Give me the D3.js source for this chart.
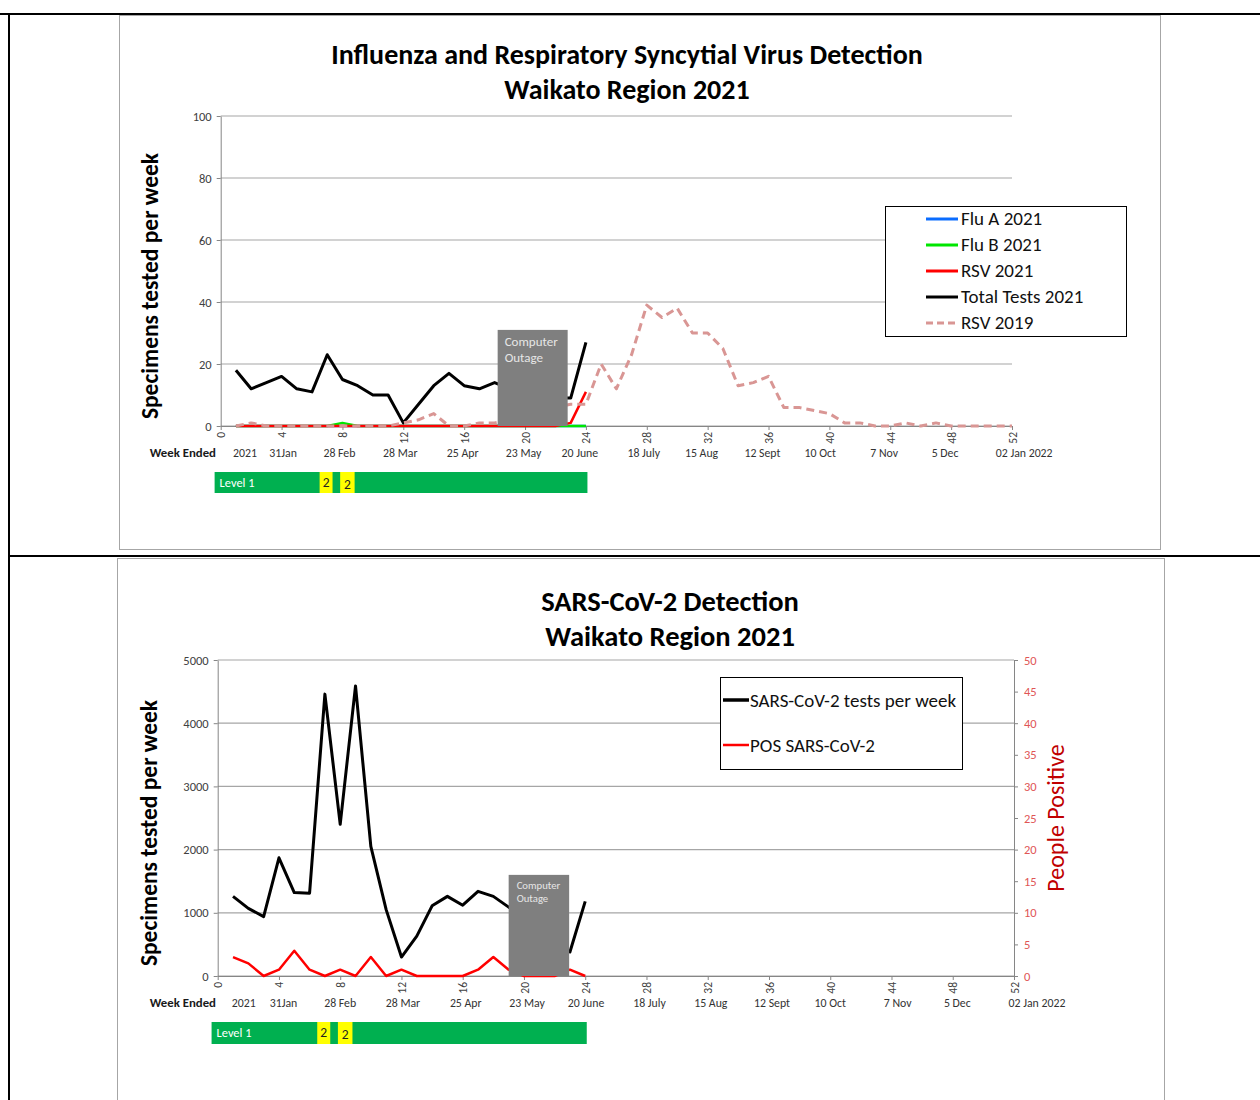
<!doctype html>
<html>
<head>
<meta charset='utf-8'>
<script src='https://cdn.jsdelivr.net/npm/d3@7/dist/d3.min.js'></script>
<style>
  body { margin:0; background:#fff; }
  text { font-family: Carlito, Calibri, Lato, sans-serif; }
</style>
</head>
<body>
<div id='page'></div>
<script>

// ---- data ----
const weeks2021 = d3.range(1, 25);          // weeks 1..24 of 2021
const weeks2019 = d3.range(1, 53);          // weeks 1..52

const fluA2021 = [0,0,0,0,0,0,0,0,0,0,0,0,0,0,0,0,0,0,0,0,0,0,0,0];
const fluB2021 = [0,0,0,0,0,0,0,1,0,0,0,0,0,0,0,0,0,0,0,0,0,0,0,0];
const rsv2021  = [0,0,0,0,0,0,0,0,0,0,0,0,0,0,0,0,0,0,0,0,0,0,1,11];
const totalTests2021 = [18,12,14,16,12,11,23,15,13,10,10,1,7,13,17,13,12,14,12,11,10,9,9,27];
const rsv2019 = [0,1,0,0,0,0,0,0,0,0,0,1,2,4,0,0,1,1,2,3,5,6,7,7,
                 20,12,23,39,35,38,30,30,25,13,14,16,6,6,5,4,1,1,0,0,1,0,1,0,0,0,0,0];

const sarsTests = [1260,1070,940,1870,1320,1310,4460,2400,4590,2050,1050,300,
                   630,1110,1260,1120,1340,1260,1090,900,700,500,380,1180];
const sarsPos   = [3,2,0,1,4,1,0,1,0,3,0,1,0,0,0,0,1,3,1,0,0,0,1,0];

const weekTicks = d3.range(0, 53, 4);
const dateLabels = ['2021','31Jan','28 Feb','28 Mar','25 Apr','23 May','20 June',
                    '18 July','15 Aug','12 Sept','10 Oct','7 Nov','5 Dec','02 Jan 2022'];
// where each date label sits (week units) - placed by hand in the original, so differs per chart
const dateWeeksFlu  = [1.6,4.1,7.8,11.8,15.9,19.9,23.6,27.8,31.6,35.6,39.4,43.6,47.6,52.8];
const dateWeeksSars = [1.7,4.3,8.0,12.1,16.2,20.2,24.05,28.2,32.2,36.2,40.0,44.4,48.3,53.5];

// alert level bands (in week units)
const alertLevels = [
  {label:'Level 1', from:-0.4, to:24.1, colour:'#00b050'},
  {label:'2', from:6.5,  to:7.35, colour:'#ffff00'},
  {label:'2', from:7.85, to:8.8,  colour:'#ffff00'}
];

// lab outage annotations (weeks, and top in data units)
const outageFlu  = {from:18.2, to:22.8, top:31};
const outageSars = {from:19.0, to:22.95, top:1600};

const fluSeries = [
  {name:'Flu A 2021', values:fluA2021, x:weeks2021, colour:'#0a6cff', width:2.5, dash:null},
  {name:'Flu B 2021', values:fluB2021, x:weeks2021, colour:'#00e600', width:2.5, dash:null},
  {name:'RSV 2021', values:rsv2021, x:weeks2021, colour:'#ff0000', width:2.5, dash:null},
  {name:'Total Tests 2021', values:totalTests2021, x:weeks2021, colour:'#000000', width:3, dash:null},
  {name:'RSV 2019', values:rsv2019, x:weeks2019, colour:'#d99694', width:3, dash:'8,5'}
];

// ---- page ----
const svg = d3.select('#page').append('svg')
  .attr('width', 1260).attr('height', 1100);

// table lines
svg.append('line').attr('x1',0).attr('x2',1260).attr('y1',14).attr('y2',14).attr('stroke','#000').attr('stroke-width',2);
svg.append('line').attr('x1',9).attr('x2',1260).attr('y1',556).attr('y2',556).attr('stroke','#000').attr('stroke-width',2);
svg.append('line').attr('x1',9).attr('x2',9).attr('y1',14).attr('y2',1100).attr('stroke','#000').attr('stroke-width',2);

// chart frames
svg.append('rect').attr('x',119.5).attr('y',15.5).attr('width',1041).attr('height',534)
  .attr('fill','#fff').attr('stroke','#a6a6a6');
svg.append('rect').attr('x',117.5).attr('y',558.5).attr('width',1047).attr('height',560)
  .attr('fill','#fff').attr('stroke','#a6a6a6');

function titles(lines, cx, y0, gap, size){
  lines.forEach((t,i) => {
    svg.append('text').attr('x',cx).attr('y',y0 + i*gap)
      .attr('text-anchor','middle').attr('font-size',size).attr('font-weight','bold')
      .attr('fill','#000').text(t);
  });
}

function yTitle(t, x, cy){
  svg.append('text').attr('transform',`translate(${x},${cy}) rotate(-90)`)
    .attr('text-anchor','middle').attr('font-size',23.5).attr('font-weight','bold')
    .attr('fill','#000').text(t);
}

function gridAndLeftAxis(y, ticks, x0, x1){
  const g = svg.append('g');
  g.selectAll('line.grid').data(ticks).enter().append('line')
    .attr('class','grid')
    .attr('x1',x0).attr('x2',x1)
    .attr('y1',d => y(d)).attr('y2',d => y(d))
    .attr('stroke','#a6a6a6').attr('stroke-width',1.2);
  const ax = svg.append('g').attr('transform',`translate(${x0},0)`)
    .call(d3.axisLeft(y).tickValues(ticks).tickFormat(d3.format('d'))
      .tickSize(4).tickSizeOuter(0).tickPadding(5));
  ax.select('.domain').attr('stroke','#868686');
  ax.selectAll('.tick line').attr('stroke','#868686');
  ax.selectAll('.tick text').attr('font-size',12.5).attr('fill','#404040')
    .style('font-family','Carlito, Calibri, Lato, sans-serif');
  return ax;
}

function weekAxis(x, yPos){
  const ax = svg.append('g').attr('transform',`translate(0,${yPos})`)
    .call(d3.axisBottom(x).tickValues(weekTicks).tickSize(4).tickSizeOuter(0));
  ax.select('.domain').attr('stroke','#868686');
  ax.selectAll('.tick line').attr('stroke','#868686');
  ax.selectAll('.tick text')
    .attr('transform','rotate(-90)')
    .attr('text-anchor','end')
    .attr('x',-6).attr('y',0).attr('dy','0.35em')
    .attr('font-size',11.5).attr('fill','#404040')
    .style('font-family','Carlito, Calibri, Lato, sans-serif');
}

function dateRow(x, yPos, labelWeeks){
  svg.append('text').attr('x',216).attr('y',yPos).attr('text-anchor','end')
    .attr('font-size',12.8).attr('font-weight','bold').attr('fill','#1a1a1a').text('Week Ended');
  svg.selectAll(null).data(dateLabels).enter().append('text')
    .attr('x',(d,i) => x(labelWeeks[i]))
    .attr('y',yPos).attr('text-anchor','middle')
    .attr('font-size',11.8).attr('fill','#333').text(d => d);
}

function levelBar(x, yTop, h){
  const g = svg.append('g');
  g.selectAll('rect').data(alertLevels).enter().append('rect')
    .attr('x',d => x(d.from)).attr('y',yTop)
    .attr('width',d => x(d.to) - x(d.from)).attr('height',h)
    .attr('fill',d => d.colour);
  g.selectAll('text').data(alertLevels).enter().append('text')
    .attr('x',(d,i) => i === 0 ? x(d.from) + 5 : (x(d.from) + x(d.to))/2)
    .attr('y',(d,i) => yTop + h/2 + (i === 2 ? 6 : 4))
    .attr('text-anchor',(d,i) => i === 0 ? 'start' : 'middle')
    .attr('font-size',(d,i) => i === 0 ? 12.4 : 13.5)
    .attr('fill',(d,i) => i === 0 ? '#fff' : '#222')
    .text(d => d.label);
}

function outageBox(x, y, o, yBase, fontSize, pad){
  const yTop = y(o.top);
  svg.append('rect').attr('x',x(o.from)).attr('y',yTop)
    .attr('width',x(o.to) - x(o.from)).attr('height',yBase - yTop)
    .attr('fill','#7f7f7f');
  ['Computer','Outage'].forEach((t,i) => {
    svg.append('text').attr('x',x(o.from) + pad)
      .attr('y',yTop + fontSize + 3 + i*(fontSize + 3))
      .attr('font-size',fontSize).attr('fill','#e6e6e6').text(t);
  });
}

// ================= chart 1 : influenza / RSV =================
const x1 = d3.scaleLinear().domain([0,52]).range([220.7, 1012]);
const y1 = d3.scaleLinear().domain([0,100]).range([426, 116]);

titles(['Influenza and Respiratory Syncytial Virus Detection','Waikato Region 2021'], 627, 64, 35, 28);
yTitle('Specimens tested per week', 158, 286);
gridAndLeftAxis(y1, d3.range(0,101,20), 220.7, 1012);
weekAxis(x1, 426);

const line1 = d3.line().x(d => x1(d[0])).y(d => y1(d[1]));
fluSeries.forEach(s => {
  svg.append('path')
    .datum(s.x.map((w,i) => [w, s.values[i]]))
    .attr('d', line1)
    .attr('fill','none')
    .attr('stroke',s.colour)
    .attr('stroke-width',s.width)
    .attr('stroke-dasharray',s.dash)
    .attr('stroke-linejoin','round');
});

outageBox(x1, y1, outageFlu, 426, 13, 7);
dateRow(x1, 457, dateWeeksFlu);
levelBar(x1, 472, 21);

// legend 1
const leg1 = svg.append('g').attr('transform','translate(885,206)');
leg1.append('rect').attr('x',0.5).attr('y',0.5).attr('width',241).attr('height',130)
  .attr('fill','#fff').attr('stroke','#000');
fluSeries.forEach((s,i) => {
  const yy = 13 + i*26;
  leg1.append('line').attr('x1',41).attr('x2',73).attr('y1',yy).attr('y2',yy)
    .attr('stroke',s.colour).attr('stroke-width',3).attr('stroke-dasharray',s.dash ? '7,4' : null);
  leg1.append('text').attr('x',76).attr('y',yy + 6).attr('font-size',19)
    .attr('fill','#111').text(s.name);
});

// ================= chart 2 : SARS-CoV-2 =================
const x2 = d3.scaleLinear().domain([0,52]).range([217.7, 1014]);
const y2 = d3.scaleLinear().domain([0,5000]).range([976, 660]);
const y2r = d3.scaleLinear().domain([0,50]).range([976, 660]);

titles(['SARS-CoV-2 Detection','Waikato Region 2021'], 670, 611, 35, 28.5);
yTitle('Specimens tested per week', 157, 833);
gridAndLeftAxis(y2, d3.range(0,5001,1000), 217.7, 1014);

const rax = svg.append('g').attr('transform','translate(1014,0)')
  .call(d3.axisRight(y2r).tickValues(d3.range(0,51,5)).tickSize(4).tickSizeOuter(0).tickPadding(6));
rax.select('.domain').attr('stroke','#868686');
rax.selectAll('.tick line').attr('stroke','#868686');
rax.selectAll('.tick text').attr('font-size',12.5).attr('fill','#e05555')
  .style('font-family','Carlito, Calibri, Lato, sans-serif');
svg.append('text').attr('transform','translate(1064,818) rotate(-90)')
  .attr('text-anchor','middle').attr('font-size',24).attr('fill','#c00000')
  .text('People Positive');

weekAxis(x2, 976);

svg.append('path')
  .datum(weeks2021.map((w,i) => [w, sarsTests[i]]))
  .attr('d', d3.line().x(d => x2(d[0])).y(d => y2(d[1])))
  .attr('fill','none').attr('stroke','#000').attr('stroke-width',3).attr('stroke-linejoin','round');
svg.append('path')
  .datum(weeks2021.map((w,i) => [w, sarsPos[i]]))
  .attr('d', d3.line().x(d => x2(d[0])).y(d => y2r(d[1])))
  .attr('fill','none').attr('stroke','#ff0000').attr('stroke-width',2.5).attr('stroke-linejoin','round');

outageBox(x2, y2, outageSars, 976, 10.7, 8);
dateRow(x2, 1007, dateWeeksSars);
levelBar(x2, 1022, 22);

// legend 2
const leg2 = svg.append('g').attr('transform','translate(720,677)');
leg2.append('rect').attr('x',0.5).attr('y',0.5).attr('width',242).attr('height',92)
  .attr('fill','#fff').attr('stroke','#000');
[['SARS-CoV-2 tests per week','#000',3.5],['POS SARS-CoV-2','#ff0000',2.5]].forEach((d,i) => {
  const yy = 23 + i*45;
  leg2.append('line').attr('x1',3).attr('x2',29).attr('y1',yy).attr('y2',yy)
    .attr('stroke',d[1]).attr('stroke-width',d[2]);
  leg2.append('text').attr('x',30).attr('y',yy + 7).attr('font-size',19)
    .attr('fill','#111').text(d[0]);
});

</script>
</body>
</html>
